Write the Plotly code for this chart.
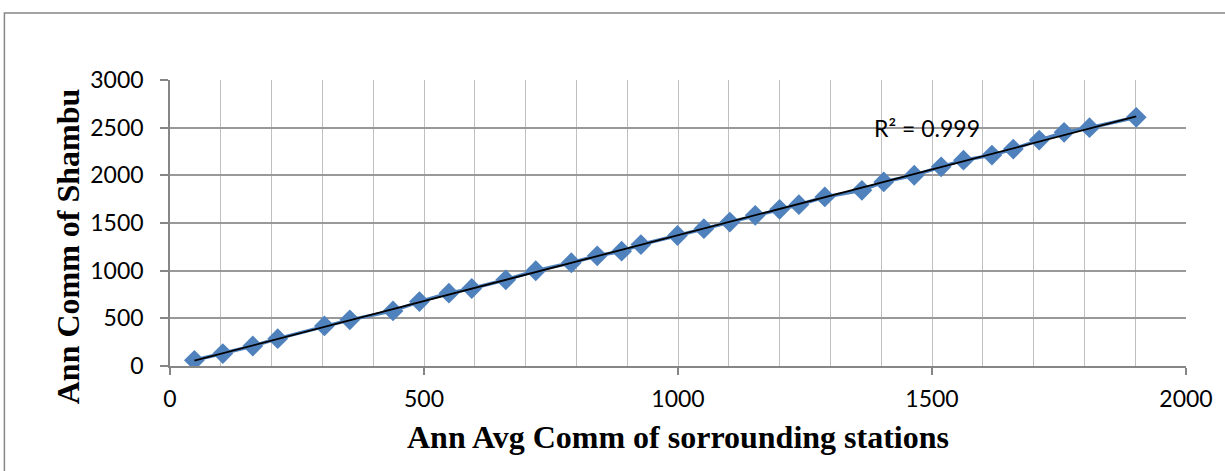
import numpy as np
import plotly.graph_objects as go

# Data
avg_surrounding = [48, 104, 163, 212, 304, 354, 439, 491, 549, 594, 661, 720, 790, 841,
                   889, 927, 999, 1051, 1102, 1152, 1200, 1238, 1289, 1362, 1405, 1465,
                   1518, 1562, 1618, 1660, 1711, 1760, 1810, 1902]
shambu = [60, 130, 210, 287, 420, 484, 578, 676, 764, 813, 904, 999, 1083, 1156,
          1204, 1274, 1369, 1440, 1510, 1580, 1643, 1692, 1773, 1843, 1931, 2001,
          2089, 2159, 2212, 2275, 2370, 2451, 2500, 2609]
x_ticks = [0, 500, 1000, 1500, 2000]
y_ticks = [0, 500, 1000, 1500, 2000, 2500, 3000]
r2_label = "R² = 0.999"
x_title = "Ann Avg Comm of sorrounding stations"
y_title = "Ann Comm of Shambu"

x = np.array(avg_surrounding, dtype=float)
y = np.array(shambu, dtype=float)
slope, intercept = np.polyfit(x, y, 1)
trend_x = np.array([x.min(), x.max()])
trend_y = slope * trend_x + intercept

fig = go.Figure()
fig.add_trace(go.Scatter(
    x=avg_surrounding, y=shambu, mode="lines+markers",
    line=dict(color="#4F81BD", width=3.5),
    marker=dict(symbol="diamond", size=16, color="#4F81BD"),
    showlegend=False, hoverinfo="skip"))
fig.add_trace(go.Scatter(
    x=trend_x, y=trend_y, mode="lines",
    line=dict(color="black", width=1.8),
    showlegend=False, hoverinfo="skip"))

tick_font = dict(family="Lato, 'Open Sans', sans-serif", size=23, color="black")
xtitle_font = dict(family="'Liberation Serif', 'Times New Roman', serif", size=32, color="black")
ytitle_font = dict(family="'Liberation Serif', 'Times New Roman', serif", size=32, color="black")

fig.update_layout(
    width=1225, height=471,
    margin=dict(l=170, r=36, t=80, b=105),
    paper_bgcolor="white", plot_bgcolor="white",
    xaxis=dict(
        range=[0, 2000], tickvals=x_ticks, ticks="outside", ticklen=7,
        tickcolor="#868686", tickwidth=1.5,
        showline=True, linecolor="#868686", linewidth=1.5,
        showgrid=True, gridcolor="#BFBFBF", gridwidth=1.3,
        minor=dict(dtick=100, showgrid=True, gridcolor="#BFBFBF", gridwidth=1.3),
        tickfont=tick_font, ticklabelstandoff=5,
        title=dict(text="<b>" + x_title + "</b>", font=xtitle_font, standoff=14),
        zeroline=False, fixedrange=True),
    yaxis=dict(
        range=[0, 3000], tickvals=y_ticks, ticks="outside", ticklen=8,
        tickcolor="#868686", tickwidth=1.5,
        showline=True, linecolor="#868686", linewidth=1.5,
        showgrid=True, gridcolor="#999999", gridwidth=1.5,
        tickfont=tick_font, ticklabelstandoff=12,
        zeroline=False, fixedrange=True),
    shapes=[dict(type="rect", xref="paper", yref="paper",
                 x0=-0.163, y0=-0.6, x1=1.2, y1=1.234,
                 line=dict(color="#878787", width=1.5), layer="below")],
    annotations=[
        dict(x=1491, y=2495, xref="x", yref="y", text=r2_label,
             showarrow=False, font=dict(family="Lato, 'Open Sans', sans-serif", size=23, color="black")),
        dict(x=-0.101, y=0.42, xref="paper", yref="paper", text="<b>" + y_title + "</b>",
             textangle=-90, showarrow=False, xanchor="center", yanchor="middle", font=ytitle_font),
    ],
)

fig.write_html("out.html")
